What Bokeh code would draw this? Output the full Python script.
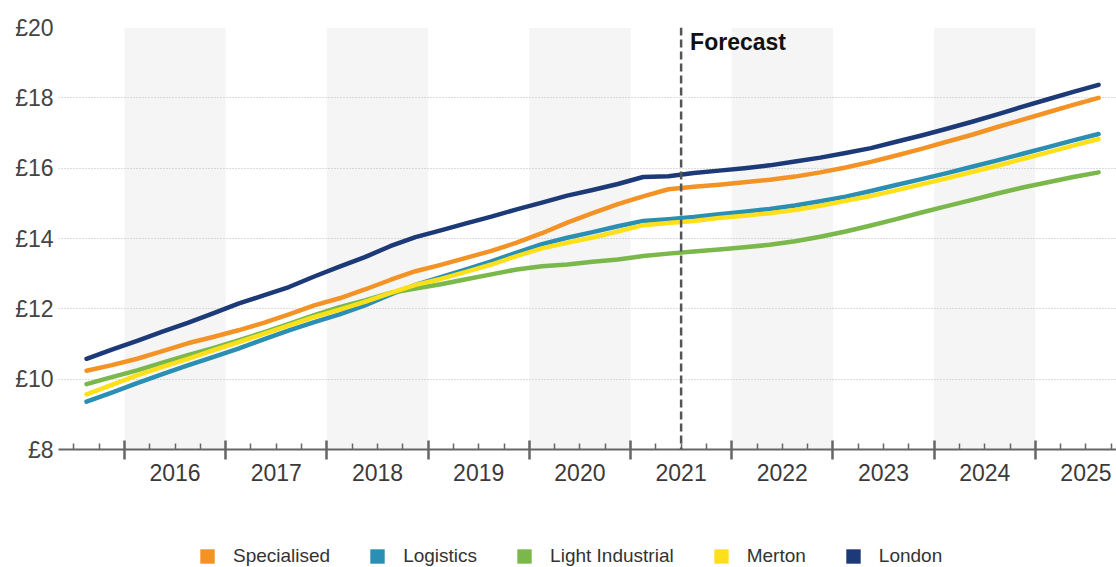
from bokeh.plotting import figure
from bokeh.layouts import column
from bokeh.models import (ColumnDataSource, FixedTicker, LinearAxis, Range1d,
                          BoxAnnotation, Span, Label, Legend, LegendItem)
from bokeh.embed import file_html
from bokeh.resources import INLINE

# Quarterly rent index, 2015 Q3 to 2025 Q3 (forecast from 2021 Q3)
years = [2015, 2015] + [y for y in range(2016, 2025) for _ in range(4)] + [2025, 2025, 2025]
quarter_nums = [3, 4] + [q for _ in range(2016, 2025) for q in (1, 2, 3, 4)] + [1, 2, 3]

specialised = [10.24, 10.40, 10.58, 10.80, 11.02, 11.20, 11.39, 11.60, 11.84, 12.10,
               12.30, 12.55, 12.82, 13.07, 13.25, 13.45, 13.65, 13.88, 14.15, 14.45,
               14.72, 14.98, 15.20, 15.40, 15.47, 15.53, 15.60, 15.67, 15.76, 15.88,
               16.02, 16.18, 16.36, 16.55, 16.75, 16.95, 17.17, 17.38, 17.59, 17.80, 18.00]
logistics = [9.36, 9.62, 9.89, 10.14, 10.39, 10.63, 10.87, 11.13, 11.39, 11.62,
             11.84, 12.10, 12.40, 12.68, 12.90, 13.12, 13.35, 13.60, 13.84, 14.02,
             14.18, 14.35, 14.50, 14.55, 14.61, 14.69, 14.76, 14.84, 14.94, 15.06,
             15.19, 15.35, 15.52, 15.69, 15.86, 16.04, 16.22, 16.41, 16.60, 16.79, 16.97]
light_industrial = [9.86, 10.06, 10.25, 10.47, 10.68, 10.88, 11.10, 11.33, 11.57, 11.82,
                    12.05, 12.24, 12.45, 12.58, 12.70, 12.84, 12.98, 13.12, 13.21, 13.26,
                    13.34, 13.40, 13.50, 13.57, 13.63, 13.69, 13.75, 13.82, 13.92, 14.05,
                    14.20, 14.37, 14.55, 14.74, 14.92, 15.10, 15.28, 15.45, 15.60, 15.75, 15.88]
merton = [9.57, 9.84, 10.11, 10.35, 10.58, 10.82, 11.05, 11.29, 11.53, 11.77,
          11.98, 12.20, 12.45, 12.68, 12.85, 13.05, 13.26, 13.50, 13.72, 13.88,
          14.03, 14.20, 14.38, 14.44, 14.50, 14.58, 14.65, 14.72, 14.81, 14.93,
          15.07, 15.21, 15.37, 15.54, 15.71, 15.89, 16.07, 16.26, 16.45, 16.64, 16.83]
london = [10.58, 10.84, 11.09, 11.35, 11.60, 11.87, 12.15, 12.38, 12.62, 12.92,
          13.20, 13.47, 13.78, 14.04, 14.23, 14.43, 14.62, 14.83, 15.02, 15.22,
          15.38, 15.55, 15.75, 15.77, 15.86, 15.93, 16.00, 16.08, 16.19, 16.30,
          16.43, 16.57, 16.75, 16.93, 17.12, 17.32, 17.53, 17.75, 17.96, 18.17, 18.37]

series_names = ["Specialised", "Logistics", "Light Industrial", "Merton", "London"]
series_values = [specialised, logistics, light_industrial, merton, london]
series_colors = ["#F39325", "#2A8FB3", "#7BB84B", "#FDE01A", "#1D3A78"]

year_labels = [str(y) for y in range(2016, 2026)]
price_ticks = [8, 10, 12, 14, 16, 18, 20]
forecast_start = 2021.5
shaded_years = [2016, 2018, 2020, 2022, 2024]

# position of each quarter at its mid-point on a fractional-year axis
x = [y + (q - 1) / 4 + 0.125 for y, q in zip(years, quarter_nums)]

FONT = "Liberation Sans"

p = figure(width=1116, height=527, output_backend="svg", toolbar_location=None,
           x_range=Range1d(2015.348, 2025.802), y_range=Range1d(8, 20),
           min_border_left=58, min_border_right=0, min_border_top=27,
           min_border_bottom=78)
p.outline_line_color = None
p.background_fill_color = "white"
p.border_fill_color = "white"

# alternating year shading
for yr in shaded_years:
    p.add_layout(BoxAnnotation(left=yr, right=yr + 1, bottom=8, top=20,
                               fill_color="#F5F5F5", fill_alpha=1.0,
                               line_color=None, level="image"))

# horizontal dotted grid
p.xgrid.visible = False
p.ygrid.ticker = FixedTicker(ticks=price_ticks[1:])
p.ygrid.grid_line_color = "#B8B8B8"
p.ygrid.grid_line_dash = "1 2"
p.ygrid.grid_line_width = 1.2

# y axis: £ labels only
p.yaxis.ticker = FixedTicker(ticks=price_ticks)
p.yaxis.major_label_overrides = {t: "£%d" % t for t in price_ticks}
p.yaxis.axis_line_color = None
p.yaxis.major_tick_line_color = None
p.yaxis.minor_tick_line_color = None
p.yaxis.major_tick_out = 0
p.yaxis.minor_tick_out = 0
p.yaxis.major_label_standoff = 5
p.yaxis.major_label_text_font = FONT
p.yaxis.major_label_text_font_size = "23px"
p.yaxis.major_label_text_color = "#444444"

# x axis: year labels centred in each year, long ticks on the year boundaries
mid_years = [int(s) + 0.5 for s in year_labels]
bounds = list(range(2016, 2026))
p.xaxis.ticker = FixedTicker(ticks=mid_years, minor_ticks=bounds)
p.xaxis.major_label_overrides = {m: s for m, s in zip(mid_years, year_labels)}
p.xaxis.axis_line_color = "#666666"
p.xaxis.axis_line_width = 2
p.xaxis.major_tick_line_color = None
p.xaxis.major_tick_in = 0
p.xaxis.major_tick_out = 0
p.xaxis.minor_tick_line_color = "#666666"
p.xaxis.minor_tick_line_width = 2.5
p.xaxis.minor_tick_in = 9
p.xaxis.minor_tick_out = 10
p.xaxis.major_label_standoff = 4
p.xaxis.major_label_text_font = FONT
p.xaxis.major_label_text_font_size = "23px"
p.xaxis.major_label_text_color = "#3A3A3A"

# short quarterly ticks on the same baseline
quarters = [b + k / 4 for b in range(2015, 2026) for k in (1, 2, 3)]
q_axis = LinearAxis(ticker=FixedTicker(ticks=[], minor_ticks=quarters), fixed_location=8)
q_axis.axis_line_color = None
q_axis.major_tick_line_color = None
q_axis.minor_tick_line_color = "#666666"
q_axis.minor_tick_line_width = 1.5
q_axis.minor_tick_in = 6
q_axis.minor_tick_out = 0
q_axis.major_tick_in = 0
q_axis.major_tick_out = 0
q_axis.major_label_standoff = 0
p.add_layout(q_axis, "below")

# series lines
src = ColumnDataSource(dict(x=x, **{n: v for n, v in zip(series_names, series_values)}))
for name, color in zip(series_names, series_colors):
    p.line("x", name, source=src, line_color=color, line_width=4.5,
           line_cap="round", line_join="round")

# forecast marker
p.add_layout(Span(location=forecast_start, dimension="height", line_color="#555555",
                  line_width=2.5, line_dash="8 4"))
p.add_layout(Label(x=forecast_start, y=20, x_offset=9, y_offset=-1, text="Forecast",
                   text_font=FONT, text_font_style="bold", text_font_size="23px",
                   text_color="#111111", text_baseline="top"))

# legend strip with square swatches (swatch glyphs sit outside the visible range)
lg = figure(width=1116, height=40, output_backend="svg", toolbar_location=None,
            x_axis_type=None, y_axis_type=None, x_range=Range1d(0, 1), y_range=Range1d(0, 1),
            min_border=0, min_border_left=0, min_border_right=0,
            min_border_top=0, min_border_bottom=0)
lg.outline_line_color = None
lg.grid.visible = False
lg.border_fill_color = "white"
items = []
for name, color in zip(series_names, series_colors):
    r = lg.quad(left=[5], right=[6], top=[6], bottom=[5], fill_color=color, line_color=None)
    items.append(LegendItem(label=name, renderers=[r]))
legend = Legend(items=items, orientation="horizontal", location=(140, 0),
                glyph_width=18, glyph_height=18, label_standoff=17, spacing=38,
                padding=0, margin=0, border_line_color=None,
                background_fill_alpha=0, label_text_font=FONT,
                label_text_font_size="19px", label_text_color="#333333")
lg.add_layout(legend, "center")

open("out.html", "w").write(file_html(column(p, lg, spacing=0), INLINE))
